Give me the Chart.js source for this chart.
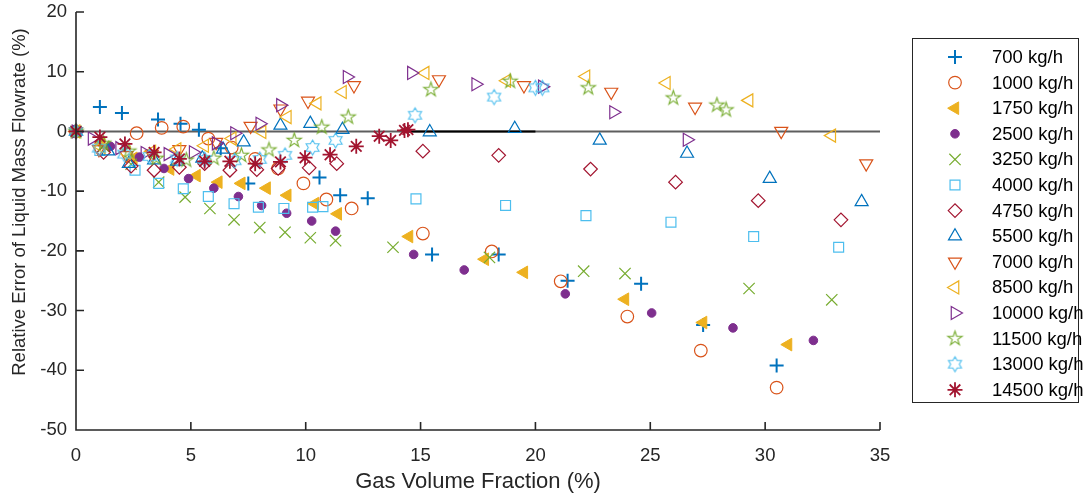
<!DOCTYPE html>
<html>
<head>
<meta charset="utf-8">
<script src="https://cdn.jsdelivr.net/npm/chart.js@4.4.0/dist/chart.umd.min.js"></script>
<style>
  html, body { margin: 0; padding: 0; background: #fff; }
</style>
</head>
<body>
<canvas id="chart" width="1087" height="499"></canvas>
<script>
// flow rates shown in the legend
const flowLabels = ['700 kg/h', '1000 kg/h', '1750 kg/h', '2500 kg/h', '3250 kg/h', '4000 kg/h', '4750 kg/h',
  '5500 kg/h', '7000 kg/h', '8500 kg/h', '10000 kg/h', '11500 kg/h', '13000 kg/h', '14500 kg/h'];

// gas volume fraction (%) and relative error (%) per flow rate
const gvf700 = [0, 1.04, 2.0, 3.57, 4.55, 5.35, 6.3, 7.5, 10.6, 11.5, 12.7, 15.5, 18.4, 21.4, 24.6, 27.3, 30.5];
const err700 = [0, 4.1, 3.1, 2.0, 1.3, 0.3, -2.8, -8.7, -7.7, -10.7, -11.2, -20.6, -20.6, -25.0, -25.5, -32.4, -39.2];

const gvf1000 = [0, 2.64, 3.73, 4.67, 5.76, 6.78, 7.8, 8.8, 9.9, 10.9, 12.0, 15.1, 18.1, 21.1, 24.0, 27.2, 30.5];
const err1000 = [0, -0.3, 0.6, 0.8, -1.2, -2.7, -4.6, -6.2, -8.7, -11.4, -12.9, -17.1, -20.1, -25.1, -31.0, -36.7, -42.9];

const gvf1750 = [0, 1.1, 2.5, 4.1, 5.25, 6.2, 7.2, 8.3, 9.2, 10.4, 11.4, 14.5, 17.8, 19.5, 23.9, 27.3, 31.0];
const err1750 = [0, -2.0, -4.5, -6.3, -7.4, -8.5, -8.7, -9.5, -10.7, -12.1, -13.8, -17.6, -21.4, -23.6, -28.1, -32.0, -35.7];

const gvf2500 = [0, 1.5, 2.76, 3.83, 4.9, 6.0, 7.07, 8.08, 9.17, 10.26, 11.3, 14.7, 16.9, 21.3, 25.06, 28.6, 32.1];
const err2500 = [0, -2.5, -4.3, -6.2, -7.9, -9.5, -10.9, -12.4, -13.7, -15.0, -16.7, -20.6, -23.2, -27.2, -30.4, -32.9, -35.0];

const gvf3250 = [0, 1.2, 2.4, 3.6, 4.75, 5.83, 6.88, 8.0, 9.1, 10.2, 11.3, 13.8, 18.0, 22.1, 23.9, 29.3, 32.9];
const err3250 = [0, -2.5, -5.5, -8.5, -11.0, -12.9, -14.8, -16.1, -16.9, -17.8, -18.3, -19.4, -21.1, -23.4, -23.8, -26.3, -28.2];

const gvf4000 = [0, 1.04, 2.57, 3.6, 4.67, 5.76, 6.88, 7.94, 9.05, 10.3, 10.75, 14.8, 18.7, 22.2, 25.9, 29.5, 33.2];
const err4000 = [0, -3.2, -6.5, -8.7, -9.6, -10.9, -12.1, -12.7, -12.9, -12.7, -12.6, -11.3, -12.4, -14.1, -15.2, -17.6, -19.4];

const gvf4750 = [0, 1.2, 2.4, 3.4, 4.5, 5.6, 6.7, 7.87, 8.8, 10.15, 11.35, 15.1, 18.4, 22.4, 26.1, 29.7, 33.3];
const err4750 = [0, -3.5, -5.8, -6.5, -6.0, -5.4, -6.5, -6.4, -6.2, -6.1, -5.4, -3.3, -4.0, -6.3, -8.5, -11.6, -14.8];

const gvf5500 = [0, 1.4, 2.3, 3.4, 4.4, 5.5, 6.4, 7.3, 8.9, 10.2, 11.6, 15.4, 19.1, 22.8, 26.6, 30.2, 34.2];
const err5500 = [0, -3.3, -5.4, -4.8, -5.0, -4.5, -3.0, -1.8, 1.0, 1.3, 0.3, -0.1, 0.45, -1.5, -3.7, -7.9, -11.8];

const gvf7000 = [0, 1.0, 2.2, 3.3, 4.5, 6.1, 7.6, 8.9, 10.1, 12.1, 15.8, 19.5, 23.3, 26.95, 30.7, 34.4];
const err7000 = [0, -3.0, -4.0, -3.8, -3.0, -1.8, 0.9, 3.8, 5.1, 7.7, 8.7, 7.7, 6.6, 4.1, 0.05, -5.4];

const gvf8500 = [0, 1.1, 2.2, 3.3, 4.4, 5.6, 6.8, 8.1, 9.2, 10.5, 11.6, 15.2, 18.75, 22.2, 25.7, 29.3, 32.9];
const err8500 = [0, -2.6, -3.6, -3.4, -3.0, -2.4, -1.2, -0.1, 2.4, 4.7, 6.6, 9.8, 8.5, 9.2, 8.1, 5.2, -0.7];

const gvf10000 = [0, 0.7, 1.9, 3.0, 4.0, 5.1, 6.1, 6.9, 8.0, 8.9, 11.8, 14.6, 17.4, 20.3, 23.4, 26.6];
const err10000 = [0, -1.2, -2.8, -3.6, -3.8, -3.5, -2.0, -0.3, 1.3, 4.4, 9.1, 9.8, 7.9, 7.5, 3.2, -1.4];

const gvf11500 = [0, 1.2, 2.3, 3.5, 4.8, 6.0, 7.2, 8.4, 9.5, 10.7, 11.85, 15.45, 18.9, 22.3, 26.0, 27.9, 28.3];
const err11500 = [0, -2.0, -3.3, -4.5, -4.8, -4.5, -4.0, -3.1, -1.5, 0.7, 2.4, 7.0, 8.4, 7.3, 5.6, 4.4, 3.6];

const gvf13000 = [0, 1.0, 2.1, 3.2, 4.4, 5.6, 6.9, 8.0, 9.1, 10.3, 11.3, 14.76, 18.2, 20.0, 20.3];
const err13000 = [0, -2.8, -3.8, -4.2, -4.6, -4.7, -4.9, -4.7, -4.0, -2.7, -1.5, 2.7, 5.75, 7.3, 7.3];

const gvf14500 = [0, 1.04, 2.13, 3.4, 4.5, 5.6, 6.7, 7.8, 8.9, 9.97, 11.06, 12.2, 13.2, 13.7, 14.3, 14.45];
const err14500 = [0, -0.95, -2.1, -3.5, -4.6, -5.0, -5.0, -5.4, -5.1, -4.4, -3.9, -2.5, -0.8, -1.5, 0.17, 0.3];

// zero reference lines (grey full width, black short piece)
const zeroLineX = [0, 35];
const zeroLineY = [0, 0];
const zeroDarkX = [14.4, 20];
const zeroDarkY = [0, 0];

const xTicksStep = 5;
const yTicksStep = 10;

const seriesX = [gvf700, gvf1000, gvf1750, gvf2500, gvf3250, gvf4000, gvf4750, gvf5500, gvf7000, gvf8500, gvf10000, gvf11500, gvf13000, gvf14500];
const seriesY = [err700, err1000, err1750, err2500, err3250, err4000, err4750, err5500, err7000, err8500, err10000, err11500, err13000, err14500];

const FONT = '"Liberation Sans", Arial, Helvetica, sans-serif';
const AXIS = '#262626';
const NONE = 'rgba(0,0,0,0)';
const yTitle = 'Relative Error of Liquid Mass Flowrate (%)';

// outlined star marker drawn once to a small canvas
function starMarker(points, outer, inner, color) {
  const size = Math.ceil(outer * 2 + 4);
  const c = document.createElement('canvas');
  c.width = size; c.height = size;
  const g = c.getContext('2d');
  g.strokeStyle = color;
  g.lineWidth = 1.1;
  g.beginPath();
  for (let k = 0; k < points * 2; k++) {
    const a = -Math.PI / 2 + k * Math.PI / points;
    const r = k % 2 ? inner : outer;
    const px = size / 2 + r * Math.cos(a), py = size / 2 + r * Math.sin(a);
    k ? g.lineTo(px, py) : g.moveTo(px, py);
  }
  g.closePath();
  g.stroke();
  return c;
}

const styles = [
  { color: '#0072BD', pointStyle: 'cross', radius: 7, rotation: 0, fill: false, width: 2 },
  { color: '#D95319', pointStyle: 'circle', radius: 6.3, rotation: 0, fill: false, width: 1.2 },
  { color: '#EDB120', pointStyle: 'triangle', radius: 7.3, rotation: 270, fill: true, width: 1 },
  { color: '#7E2F8E', pointStyle: 'circle', radius: 4.3, rotation: 0, fill: true, width: 1 },
  { color: '#77AC30', pointStyle: 'crossRot', radius: 8, rotation: 0, fill: false, width: 1.2 },
  { color: '#4DBEEE', pointStyle: 'rect', radius: 7, rotation: 0, fill: false, width: 1.2 },
  { color: '#A2142F', pointStyle: 'rectRot', radius: 6.8, rotation: 0, fill: false, width: 1.2 },
  { color: '#0072BD', pointStyle: 'triangle', radius: 7.5, rotation: 0, fill: false, width: 1.2 },
  { color: '#D95319', pointStyle: 'triangle', radius: 7.5, rotation: 180, fill: false, width: 1.2 },
  { color: '#EDB120', pointStyle: 'triangle', radius: 7.5, rotation: 270, fill: false, width: 1.2 },
  { color: '#7E2F8E', pointStyle: 'triangle', radius: 7.5, rotation: 90, fill: false, width: 1.2 },
  { color: '#77AC30', pointStyle: starMarker(5, 7.5, 2.9, '#77AC30'), radius: 7, rotation: 0, fill: false, width: 1 },
  { color: '#4DBEEE', pointStyle: starMarker(6, 7.5, 4.3, '#4DBEEE'), radius: 7, rotation: 0, fill: false, width: 1 },
  { color: '#A2142F', pointStyle: 'star', radius: 7.5, rotation: 0, fill: false, width: 1.8 },
];

const datasets = flowLabels.map((label, i) => ({
  type: 'scatter',
  label: label,
  data: seriesX[i].map((v, j) => ({ x: v, y: seriesY[i][j] })),
  pointStyle: styles[i].pointStyle,
  pointRadius: styles[i].radius,
  pointHoverRadius: styles[i].radius,
  pointRotation: styles[i].rotation,
  borderColor: styles[i].color,
  backgroundColor: styles[i].fill ? styles[i].color : NONE,
  borderWidth: styles[i].width,
  clip: false,
  order: flowLabels.length - i, // later series on top, as in the source
}));

datasets.push({
  type: 'line',
  label: 'zero',
  data: zeroLineX.map((v, j) => ({ x: v, y: zeroLineY[j] })),
  borderColor: '#5e5e5e',
  borderWidth: 2,
  pointRadius: 0,
  fill: false,
  order: 101,
});
datasets.push({
  type: 'line',
  label: 'zero2',
  data: zeroDarkX.map((v, j) => ({ x: v, y: zeroDarkY[j] })),
  borderColor: '#000',
  borderWidth: 2,
  pointRadius: 0,
  fill: false,
  order: 100,
});

// axes with inward ticks, no box, plus the y label
const axesPlugin = {
  id: 'matlabAxes',
  afterDatasetsDraw(chart) {
    const { ctx, chartArea: a, scales: { x, y } } = chart;
    ctx.save();
    ctx.strokeStyle = AXIS;
    ctx.lineWidth = 1.6;
    ctx.beginPath();
    ctx.moveTo(a.left, a.top);
    ctx.lineTo(a.left, a.bottom);
    ctx.lineTo(a.right, a.bottom);
    x.ticks.forEach(t => {
      const px = x.getPixelForValue(t.value);
      ctx.moveTo(px, a.bottom);
      ctx.lineTo(px, a.bottom - 8);
    });
    y.ticks.forEach(t => {
      const py = y.getPixelForValue(t.value);
      ctx.moveTo(a.left, py);
      ctx.lineTo(a.left + 8, py);
    });
    ctx.stroke();

    ctx.translate(20, 202);
    ctx.rotate(-Math.PI / 2);
    ctx.fillStyle = AXIS;
    ctx.font = '18.5px ' + FONT;
    ctx.textAlign = 'center';
    ctx.textBaseline = 'middle';
    ctx.fillText(yTitle, 0, 0);
    ctx.restore();
  }
};

// boxed legend on the right
const legendPlugin = {
  id: 'boxLegend',
  afterDraw(chart) {
    const ctx = chart.ctx;
    const left = 912.5, top = 38.5, w = 166, h = 364;
    ctx.save();
    ctx.fillStyle = '#fff';
    ctx.fillRect(left, top, w, h);
    ctx.strokeStyle = AXIS;
    ctx.lineWidth = 1;
    ctx.strokeRect(left, top, w, h);
    ctx.font = '18.5px ' + FONT;
    ctx.textBaseline = 'middle';
    flowLabels.forEach((label, i) => {
      const yy = 57 + i * 25.6;
      const s = styles[i];
      ctx.strokeStyle = s.color;
      ctx.fillStyle = s.fill ? s.color : NONE;
      ctx.lineWidth = s.width;
      Chart.helpers.drawPoint(ctx, { pointStyle: s.pointStyle, radius: s.radius, rotation: s.rotation, borderWidth: s.width }, 955, yy);
      ctx.fillStyle = '#000';
      ctx.fillText(label, 992, yy + 1);
    });
    ctx.restore();
  }
};

new Chart(document.getElementById('chart').getContext('2d'), {
  type: 'scatter',
  data: { datasets },
  options: {
    responsive: false,
    animation: false,
    devicePixelRatio: 1,
    layout: { padding: { top: 12, right: 207, left: 0, bottom: 0 } },
    plugins: { legend: { display: false }, tooltip: { enabled: false } },
    scales: {
      x: {
        type: 'linear',
        min: 0, max: 35,
        afterFit(scale) { scale.height = 69; },
        grid: { display: false, drawTicks: false },
        border: { display: false },
        ticks: { stepSize: xTicksStep, color: AXIS, padding: 15, font: { family: FONT, size: 18.5 } },
        title: { display: true, text: 'Gas Volume Fraction (%)', color: AXIS, padding: { top: 0, bottom: 4 }, font: { family: FONT, size: 22 } },
      },
      y: {
        type: 'linear',
        min: -50, max: 20,
        afterFit(scale) { scale.width = 76; },
        grid: { display: false, drawTicks: false },
        border: { display: false },
        // small lineHeight keeps the top label from pushing the plot down
        ticks: { stepSize: yTicksStep, color: AXIS, padding: 9, font: { family: FONT, size: 18.5, lineHeight: 0.2 } },
        title: { display: false },
      },
    },
  },
  plugins: [axesPlugin, legendPlugin],
});
</script>
</body>
</html>
